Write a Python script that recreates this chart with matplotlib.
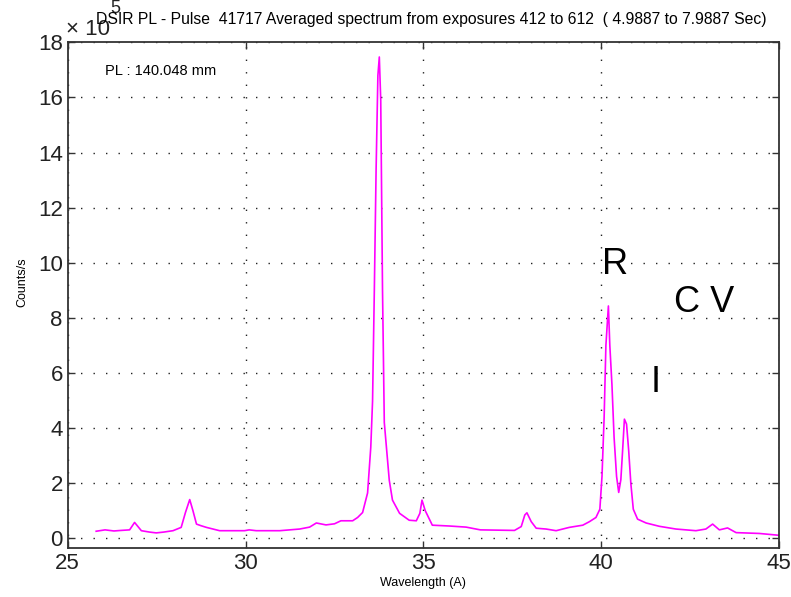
#!/usr/bin/env python
import matplotlib
matplotlib.use('Agg')
import matplotlib.pyplot as plt

# averaged spectrum, wavelength (A) and counts/s in units of 1e5
wavelength = [25.80, 25.90, 26.05, 26.30, 26.50, 26.74, 26.88, 27.07, 27.30, 27.49,
              27.70, 27.96, 28.19, 28.31, 28.43, 28.52, 28.62, 28.75, 28.90, 29.27,
              29.97, 30.10, 30.30, 30.96, 31.52, 31.80, 31.99, 32.26, 32.50, 32.68,
              33.01, 33.15, 33.29, 33.43, 33.52, 33.57, 33.62, 33.67, 33.72, 33.76,
              33.80, 33.85, 33.90, 34.04, 34.13, 34.33, 34.60, 34.80, 34.90, 34.96,
              35.05, 35.25, 35.73, 36.20, 36.60, 37.56, 37.75, 37.85, 37.91, 38.03,
              38.17, 38.45, 38.73, 39.10, 39.48, 39.67, 39.85, 39.96, 40.02, 40.08,
              40.13, 40.20, 40.24, 40.30, 40.36, 40.43, 40.49, 40.55, 40.60, 40.65,
              40.71, 40.77, 40.83, 40.90, 41.02, 41.26, 41.63, 42.10, 42.66, 42.94,
              43.13, 43.32, 43.55, 43.79, 44.44, 44.94, 45.00]
counts = [0.25, 0.27, 0.30, 0.26, 0.28, 0.30, 0.57, 0.27, 0.22, 0.19,
          0.22, 0.27, 0.39, 0.93, 1.40, 1.00, 0.51, 0.45, 0.39, 0.27,
          0.27, 0.30, 0.27, 0.27, 0.33, 0.40, 0.55, 0.48, 0.52, 0.63,
          0.63, 0.75, 0.93, 1.64, 3.30, 4.97, 9.00, 13.4, 16.8, 17.47,
          15.9, 9.00, 4.20, 2.10, 1.38, 0.90, 0.65, 0.63, 0.90, 1.38,
          1.00, 0.47, 0.44, 0.40, 0.30, 0.28, 0.42, 0.84, 0.92, 0.60,
          0.36, 0.33, 0.27, 0.39, 0.47, 0.60, 0.75, 1.05, 2.24, 4.38,
          7.00, 8.43, 7.00, 5.57, 3.66, 2.24, 1.66, 2.12, 3.19, 4.32,
          4.14, 3.19, 2.00, 1.05, 0.69, 0.55, 0.43, 0.33, 0.27, 0.33,
          0.51, 0.30, 0.37, 0.20, 0.17, 0.11, 0.10]

xticks = [25, 30, 35, 40, 45]
yticks = [0, 2, 4, 6, 8, 10, 12, 14, 16, 18]

title = 'DSIR PL - Pulse  41717 Averaged spectrum from exposures 412 to 612  ( 4.9887 to 7.9887 Sec)'

def plot_spectrum():
	plt.rcParams['font.family'] = ['Liberation Sans', 'DejaVu Sans']
	fig = plt.figure(figsize=(7.91, 5.97), dpi=100)
	ax = fig.add_axes([0.0856, 0.082, 0.8994, 0.847])

	ax.plot(wavelength, counts, color='#ff00ff', linewidth=1.2)

	ax.axis([25, 45, -0.36, 18])
	ax.set_xticks(xticks)
	ax.set_yticks(yticks)
	ax.tick_params(direction='in', top=True, right=True, labelsize=16, length=5, width=1, colors='#333333')
	for lab in ax.get_xticklabels() + ax.get_yticklabels():
		lab.set_color('#222222')
	for sp in ax.spines.values():
		sp.set_color('#333333')
		sp.set_linewidth(1.3)
	ax.grid(True, color='#222222', linestyle=(0, (1, 8)), linewidth=1)

	ax.set_xlabel('Wavelength (A)', fontsize=9, labelpad=2)
	ax.set_ylabel('Counts/s', fontsize=9)
	ax.yaxis.set_label_coords(-0.055, 0.525)

	# scale factor and title
	fig.text(0.084, 0.95, u'\u00d7 10', fontsize=16, color='#222222', va='center', ha='left')
	fig.text(0.139, 0.985, '5', fontsize=13, color='#222222', va='center', ha='left')
	fig.text(0.545, 0.968, title, fontsize=11.3, ha='center', va='center')
	ax.text(0.052, 0.935, 'PL : 140.048 mm', transform=ax.transAxes, fontsize=10.5)

	# line identifications
	ax.text(40.02, 9.6, 'R', fontsize=26)
	ax.text(42.05, 8.2, 'C V', fontsize=26)
	ax.text(41.38, 5.3, 'I', fontsize=26)

	plt.savefig('out.png', dpi=100)


if __name__ == "__main__":
	plot_spectrum()
